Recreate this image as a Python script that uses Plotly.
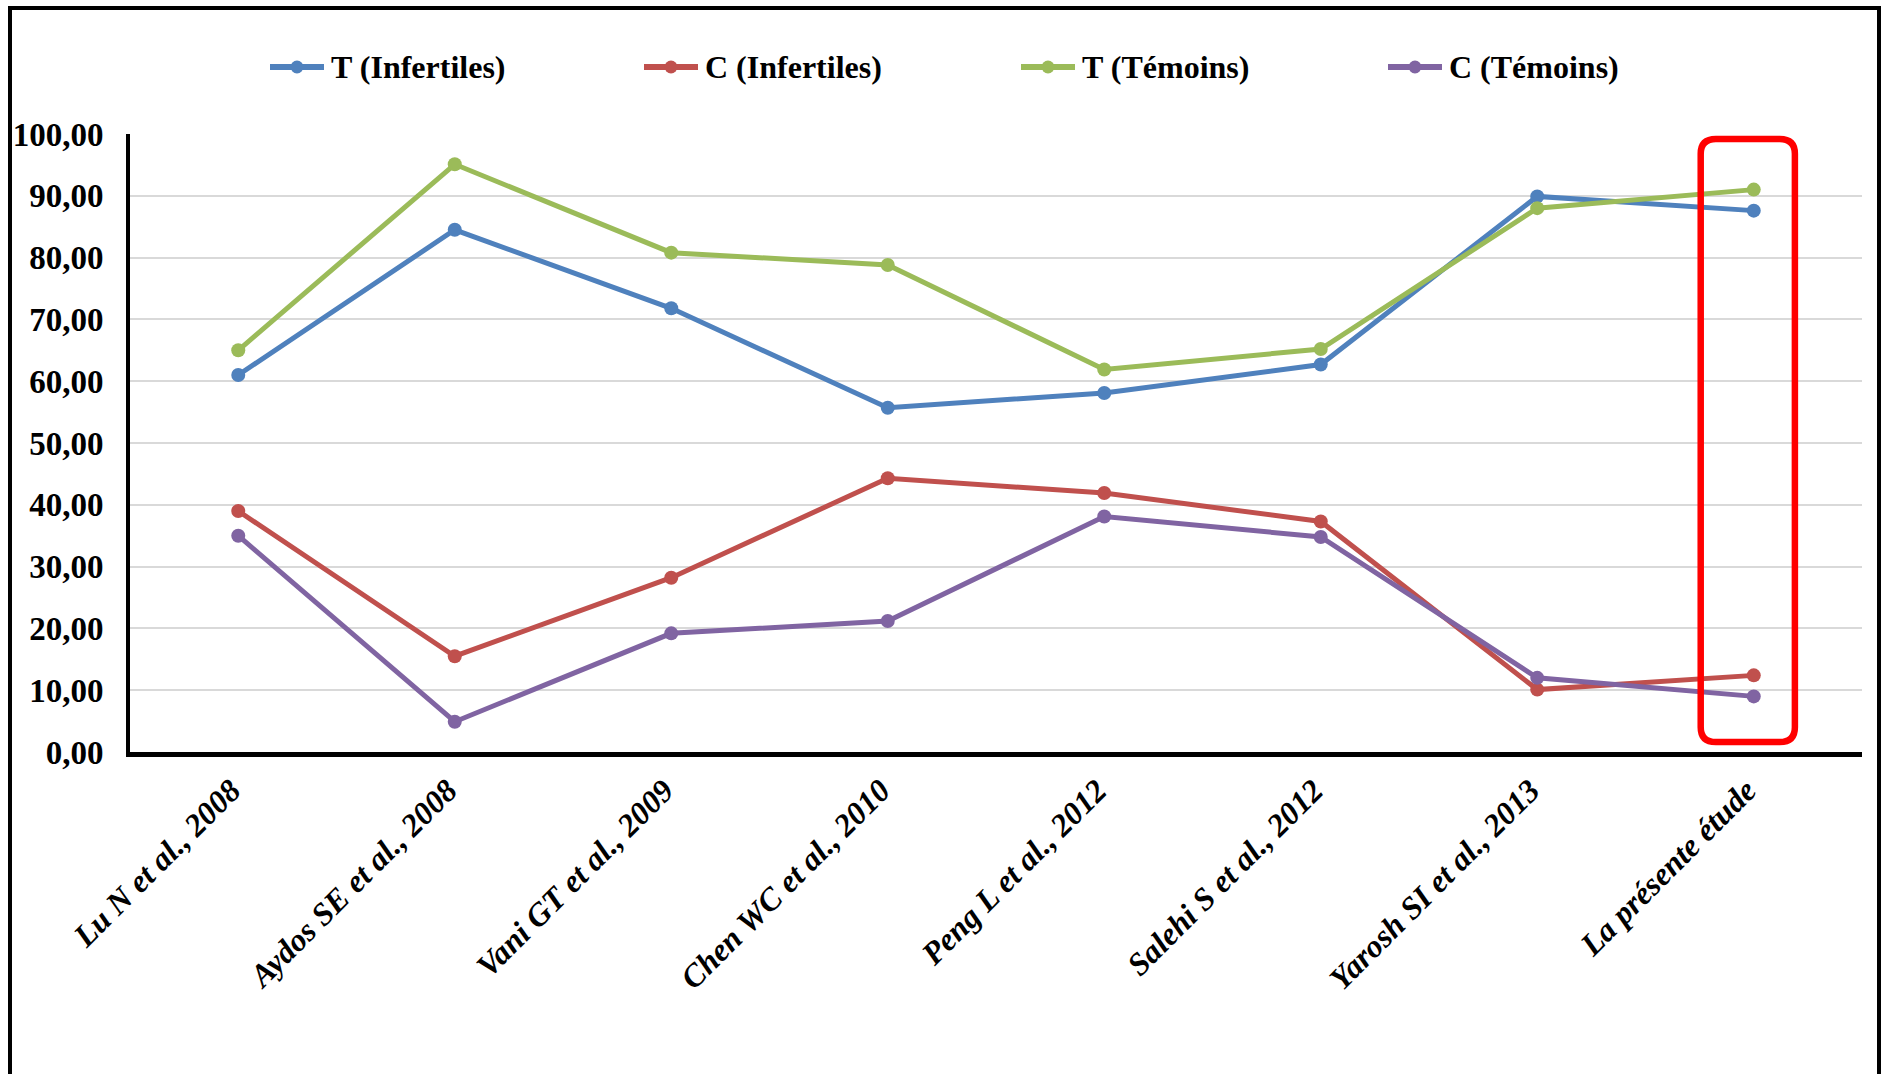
import plotly.graph_objects as go

# Study labels along the x axis
studies = [
    "Lu N et al., 2008",
    "Aydos SE et al., 2008",
    "Vani GT et al., 2009",
    "Chen WC et al., 2010",
    "Peng L et al., 2012",
    "Salehi S et al., 2012",
    "Yarosh SI et al., 2013",
    "La présente étude",
]

# Allele frequencies (%) per study
t_infertiles = [61.0, 84.5, 71.8, 55.7, 58.1, 62.7, 89.9, 87.6]
c_infertiles = [39.0, 15.5, 28.2, 44.3, 41.9, 37.3, 10.1, 12.4]
t_temoins = [65.0, 95.1, 80.8, 78.8, 61.9, 65.2, 88.0, 91.0]
c_temoins = [35.0, 4.9, 19.2, 21.2, 38.1, 34.8, 12.0, 9.0]

series_names = ["T (Infertiles)", "C (Infertiles)", "T (Témoins)", "C (Témoins)"]
series_values = [t_infertiles, c_infertiles, t_temoins, c_temoins]
series_colors = ["#4f81bd", "#c0504d", "#9bbb59", "#8064a2"]

y_ticks = [0, 10, 20, 30, 40, 50, 60, 70, 80, 90, 100]

FONT = "Liberation Serif, Times New Roman, serif"
W, H = 1881, 1074
ML, MR, MT, MB = 130, 19, 134, 322
PW, PH = W - ML - MR, H - MT - MB


def px_x(px):
    """Pixel column -> paper x."""
    return (px - ML) / PW


def px_y(py):
    """Pixel row -> paper y."""
    return (H - MB - py) / PH


x_pos = list(range(len(studies)))

fig = go.Figure()
for name, vals, col in zip(series_names, series_values, series_colors):
    fig.add_trace(go.Scatter(
        x=x_pos, y=vals, name=name, mode="lines+markers",
        line=dict(color=col, width=5),
        marker=dict(color=col, size=14),
        cliponaxis=False, showlegend=False,
    ))

# Rounded frame around the last study ("La présente étude")
hx = len(studies) - 1
bx0, bx1 = hx - 0.245, hx + 0.19
by0, by1 = 1.6, 99.2
rx, ry = 0.07, 2.4
box_path = (
    f"M {bx0 + rx},{by1} L {bx1 - rx},{by1} Q {bx1},{by1} {bx1},{by1 - ry} "
    f"L {bx1},{by0 + ry} Q {bx1},{by0} {bx1 - rx},{by0} "
    f"L {bx0 + rx},{by0} Q {bx0},{by0} {bx0},{by0 + ry} "
    f"L {bx0},{by1 - ry} Q {bx0},{by1} {bx0 + rx},{by1} Z"
)

shapes = [
    dict(type="path", xref="x", yref="y", path=box_path,
         line=dict(color="#ff0000", width=6.5), layer="above"),
    # outer frame (open at the bottom edge of the page)
    dict(type="path", xref="paper", yref="paper",
         path=f"M {px_x(10)},-0.7 L {px_x(10)},{px_y(8)} "
              f"L {px_x(1879)},{px_y(8)} L {px_x(1879)},-0.7",
         line=dict(color="black", width=4)),
]

# Legend row drawn as line + dot + label for each series
annotations = []
legend_starts = [270, 644, 1021, 1388]
legend_y = px_y(67)
for start, name, col in zip(legend_starts, series_names, series_colors):
    shapes.append(dict(type="line", xref="paper", yref="paper",
                       x0=px_x(start), x1=px_x(start + 54), y0=legend_y, y1=legend_y,
                       line=dict(color=col, width=6)))
    shapes.append(dict(type="circle", xref="paper", yref="paper",
                       xsizemode="pixel", ysizemode="pixel",
                       xanchor=px_x(start + 27), yanchor=legend_y,
                       x0=-6.5, x1=6.5, y0=-6.5, y1=6.5,
                       fillcolor=col, line=dict(width=0)))
    annotations.append(dict(xref="paper", yref="paper",
                            x=px_x(start + 59), y=legend_y,
                            xanchor="left", yanchor="middle", showarrow=False,
                            text=name,
                            font=dict(family=FONT, size=32, color="black", weight="bold")))

fig.update_layout(
    width=W, height=H,
    margin=dict(l=ML, r=MR, t=MT, b=MB, autoexpand=False),
    paper_bgcolor="white", plot_bgcolor="white",
    separators=", ",
    font=dict(family=FONT, size=32, color="black", weight="bold"),
    showlegend=False,
    shapes=shapes,
    annotations=annotations,
    xaxis=dict(
        range=[-0.5, len(studies) - 0.5],
        tickmode="array", tickvals=x_pos, ticktext=studies,
        tickangle=-45, ticks="",
        tickfont=dict(family=FONT, size=32, color="black", weight="bold", style="italic"),
        showgrid=False, zeroline=False,
        showline=True, linecolor="black", linewidth=5,
        ticklabelstandoff=2, ticklabelshift=-7, automargin=False,
    ),
    yaxis=dict(
        range=[0, 100], tickmode="array", tickvals=y_ticks,
        tickformat=".2f",
        tickfont=dict(family=FONT, size=33, color="black", weight="bold"),
        showgrid=True, gridcolor="#d9d9d9", gridwidth=2,
        zeroline=False, ticks="",
        showline=True, linecolor="black", linewidth=4,
        ticklabelstandoff=16, automargin=False,
    ),
)

fig.write_html("out.html")
